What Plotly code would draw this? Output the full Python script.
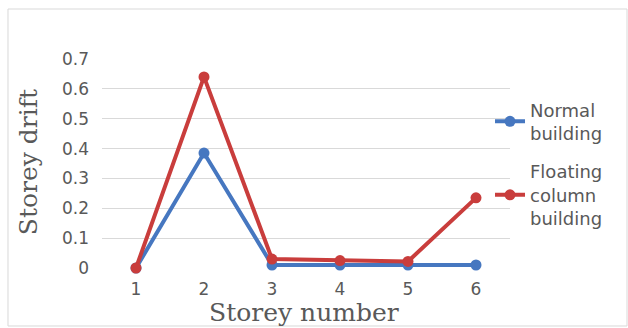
import plotly.graph_objects as go

# Storey drift per storey for the two building models
storeys = [1, 2, 3, 4, 5, 6]
normal_drift = [0.0, 0.385, 0.01, 0.01, 0.01, 0.01]
floating_drift = [0.0, 0.64, 0.03, 0.025, 0.022, 0.235]
series_names = ["Normal<br>building", "Floating<br>column<br>building"]
y_ticks = [0, 0.1, 0.2, 0.3, 0.4, 0.5, 0.6, 0.7]
y_tick_text = ["0", "0.1", "0.2", "0.3", "0.4", "0.5", "0.6", "0.7"]

BLUE = "#4677c0"
RED = "#c93d3c"
GREY_TEXT = "#595959"
SANS = "DejaVu Sans"
SERIF = "DejaVu Serif"

fig = go.Figure()
for name, vals, col, grp in [
    (series_names[0], normal_drift, BLUE, "a"),
    (series_names[1], floating_drift, RED, "b"),
]:
    fig.add_trace(go.Scatter(
        x=storeys, y=vals, name=name, mode="lines+markers",
        legendgroup=grp,
        line=dict(color=col, width=4),
        marker=dict(color=col, size=11),
        cliponaxis=False,
    ))

fig.update_layout(
    width=628, height=328,
    margin=dict(l=102, r=118, t=59, b=60),
    paper_bgcolor="white", plot_bgcolor="white",
    showlegend=True,
    legend=dict(
        x=0.951, y=0.845, xanchor="left", yanchor="top",
        font=dict(family=SANS, size=18, color=GREY_TEXT),
        tracegroupgap=12, itemwidth=30,
        bgcolor="rgba(0,0,0,0)",
    ),
    xaxis=dict(
        range=[0.5, 6.5], tickvals=storeys, showgrid=False, zeroline=False,
        showline=False, ticks="", ticklabelstandoff=9,
        tickfont=dict(family=SANS, size=17, color=GREY_TEXT),
    ),
    yaxis=dict(
        range=[0, 0.7], tickvals=y_ticks, ticktext=y_tick_text,
        showgrid=True, gridcolor="#d9d9d9", gridwidth=1,
        zeroline=False, showline=False, ticks="",
        ticklabelstandoff=12,
        tickfont=dict(family=SANS, size=17, color=GREY_TEXT),
    ),
    annotations=[
        dict(text="Storey number", x=0.495, y=-0.215, xref="paper", yref="paper",
             xanchor="center", yanchor="middle", showarrow=False,
             font=dict(family=SERIF, size=25, color=GREY_TEXT)),
        dict(text="Storey drift", x=-0.181, y=0.507, xref="paper", yref="paper",
             xanchor="center", yanchor="middle", showarrow=False, textangle=-90,
             font=dict(family=SERIF, size=25, color=GREY_TEXT)),
    ],
    shapes=[
        dict(type="rect", xref="paper", yref="paper",
             x0=-0.2304, x1=1.2868, y0=-0.2775, y1=1.2392,
             line=dict(color="#d9d9d9", width=1), fillcolor="rgba(0,0,0,0)",
             layer="below"),
    ],
)

fig.write_html("out.html")
